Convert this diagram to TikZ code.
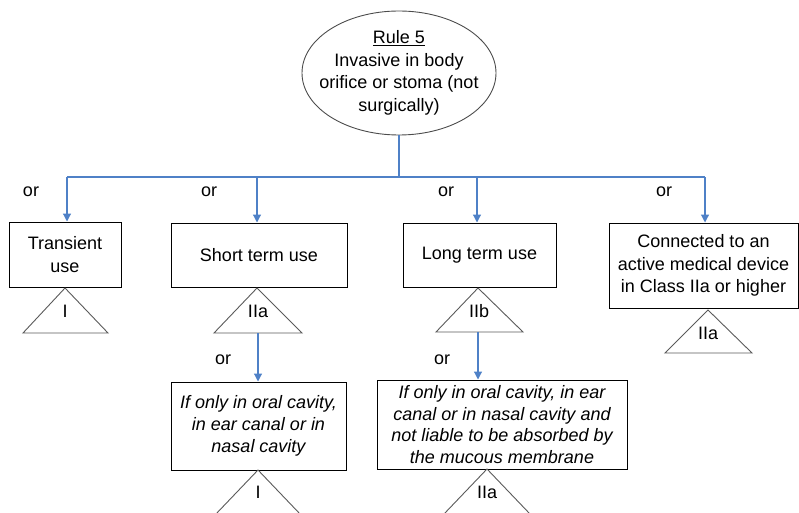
\documentclass[tikz,border=0pt]{standalone}
\usepackage{fontspec}
\setmainfont{Liberation Sans}
\usetikzlibrary{arrows.meta,shapes.geometric}
\definecolor{connblue}{RGB}{79,129,199}
\definecolor{trigray}{RGB}{90,90,90}
\begin{document}
\begin{tikzpicture}[x=1pt,y=-1pt,
  every node/.style={font=\fontsize{18}{22.5}\selectfont, inner sep=0pt},
  box/.style={draw=black, line width=1pt, align=center, inner sep=0pt},
  itbox/.style={box, font=\fontsize{18}{21.7}\selectfont\itshape},
  conn/.style={draw=connblue, line width=1.2pt},
  arr/.style={conn, -{Triangle[width=8pt,length=8pt]}},
  tri/.style={draw=trigray, line width=0.9pt},
  orlbl/.style={anchor=center}]
\useasboundingbox (0,0) rectangle (799,513);
% root
\node[ellipse, draw=black!70, line width=0.9pt, minimum width=194pt, minimum height=124pt, align=center] (root) at (399,73) {};
\node[align=center] (roottext) at (399,73) {\underline{Rule 5}\\Invasive in body\\orifice or stoma (not\\surgically)};
% first row boxes
\node[box, minimum width=112pt, minimum height=65pt] (b1) at (65,254.5) {Transient\\use};
\node[box, minimum width=176pt, minimum height=64pt] (b2) at (259,255) {Short term use};
\node[box, minimum width=153pt, minimum height=64pt] (b3) at (479.5,255) {Long term use};
\node[box, minimum width=189pt, minimum height=85pt] (b4) at (703.5,265.5) {Connected to an\\active medical device\\in Class IIa or higher};
% second row boxes
\node[itbox, minimum width=175pt, minimum height=88pt] (b5) at (258.5,426) {If only in oral cavity,\\in ear canal or in\\nasal cavity};
\node[itbox, minimum width=250pt, minimum height=89pt] (b6) at (502,424.5) {If only in oral cavity, in ear\\canal or in nasal cavity and\\not liable to be absorbed by\\the mucous membrane};
% connectors
\coordinate (hub) at (399,177);
\coordinate (hl) at (67,177);
\coordinate (hr) at (705,177);
\coordinate (a2) at (257,177);
\coordinate (a3) at (477,177);
\draw[conn] (root.south) -- (hub);
\draw[conn] (hl) -- (hr);
\draw[arr] (hl) -- (hl |- b1.north);
\draw[arr] (a2) -- (a2 |- b2.north);
\draw[arr] (a3) -- (a3 |- b3.north);
\draw[arr] (hr) -- (hr |- b4.north);
% triangles
\draw[tri] (65,288) -- (108,333) -- (23,333) -- cycle;
\node (c1) at (65,311) {I};
\draw[tri] (257,288) -- (302,333) -- (214,333) -- cycle;
\node (c2) at (258,311) {IIa};
\coordinate (t2b) at (258,333);
\draw[tri] (478,288) -- (523,332) -- (436,332) -- cycle;
\node (c3) at (479,311) {IIb};
\coordinate (t3b) at (478,332);
\draw[tri] (708,310) -- (752,353) -- (665,353) -- cycle;
\node (c4) at (708,333) {IIa};
\draw[tri] (258,470) -- (301,515) -- (215,515) -- cycle;
\node (c5) at (258,492) {I};
\draw[tri] (487,469) -- (530,514) -- (444,514) -- cycle;
\node (c6) at (487,492) {IIa};
% second level arrows
\draw[arr] (t2b) -- (t2b |- b5.north);
\draw[arr] (t3b) -- (t3b |- b6.north);
% or labels
\node[orlbl] (o1) at (31,192) {or};
\node[orlbl] (o2) at (209,192) {or};
\node[orlbl] (o3) at (446,192) {or};
\node[orlbl] (o4) at (664,192) {or};
\node[orlbl] (o5) at (223,360) {or};
\node[orlbl] (o6) at (442,360) {or};
\end{tikzpicture}
\end{document}
